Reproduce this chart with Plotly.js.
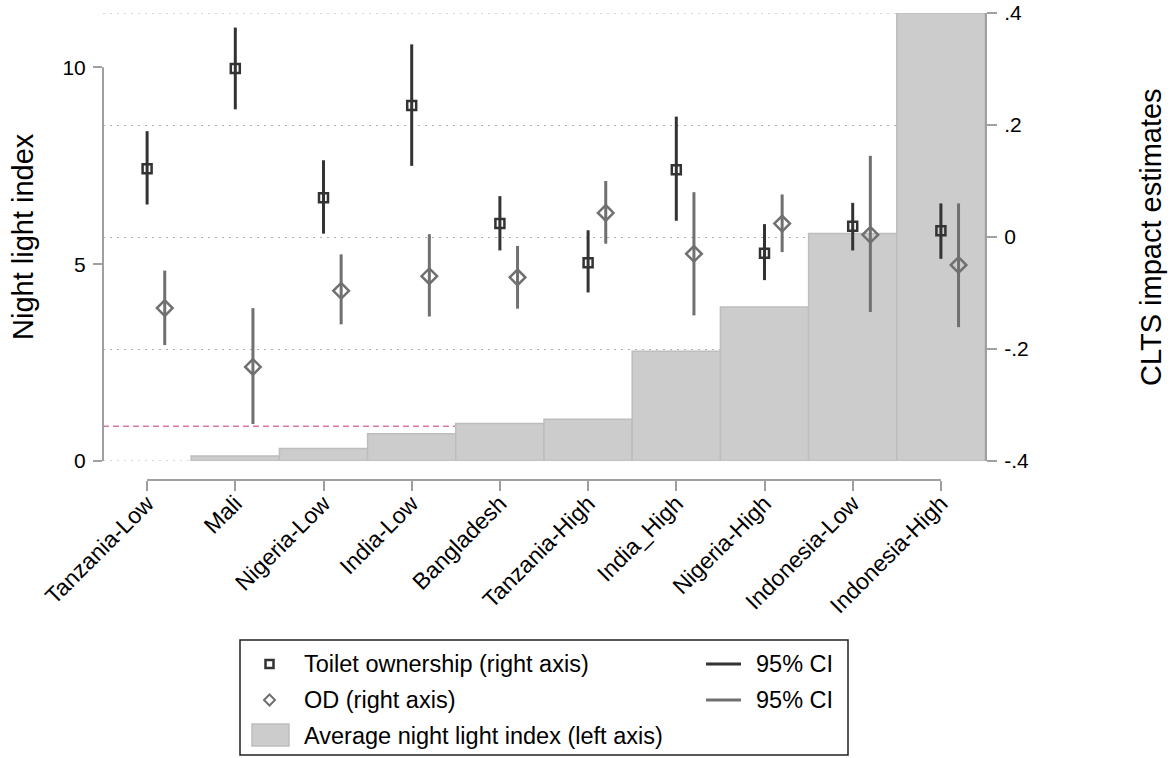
<!DOCTYPE html>
<html>
<head>
<meta charset="utf-8">
<script src="https://cdn.plot.ly/plotly-3.0.1.min.js"></script>
<style>html,body{margin:0;padding:0;background:#fff}</style>
</head>
<body>
<div id="chart" style="width:1172px;height:758px"></div>
<script>
// Sites, ordered by average night light index
const categories = ['Tanzania-Low', 'Mali', 'Nigeria-Low', 'India-Low', 'Bangladesh',
                    'Tanzania-High', 'India_High', 'Nigeria-High', 'Indonesia-Low', 'Indonesia-High'];

// Average night light index (left axis)
const nightLight = [0, 0.13, 0.32, 0.69, 0.95, 1.06, 2.79, 3.91, 5.78, 11.38];

// CLTS impact on toilet ownership (right axis) with 95% CI bounds
const toiletEst = [0.122, 0.301, 0.070, 0.235, 0.024, -0.046, 0.120, -0.029, 0.019, 0.011];
const toiletHi  = [0.189, 0.374, 0.137, 0.344, 0.073, 0.012, 0.215, 0.023, 0.061, 0.060];
const toiletLo  = [0.058, 0.228, 0.006, 0.127, -0.024, -0.099, 0.029, -0.077, -0.024, -0.039];

// CLTS impact on open defecation (right axis) with 95% CI bounds
const odEst = [-0.127, -0.232, -0.096, -0.070, -0.072, 0.043, -0.030, 0.024, 0.004, -0.050];
const odHi  = [-0.060, -0.127, -0.031, 0.005, -0.016, 0.100, 0.080, 0.076, 0.145, 0.060];
const odLo  = [-0.193, -0.334, -0.156, -0.142, -0.128, -0.012, -0.140, -0.027, -0.134, -0.161];

// Horizontal reference level on the night light scale
const referenceLevel = 0.88;

// Axis ticks
const leftTicks = [0, 5, 10];
const rightTicks = [-0.4, -0.2, 0, 0.2, 0.4];
const rightTickText = ['-.4', '-.2', '0', '.2', '.4'];

const idx = categories.map((_, i) => i);
const odOffset = 0.2;

const FONT = 'Liberation Sans, Arial, Helvetica, sans-serif';
const AXIS_GRAY = '#a0a0a0';
const GRID_GRAY = '#b0b0b0';
const GRID_DASH = '2px,5px';
const DARK = '#333333';
const MID = '#707070';
const BAR_FILL = '#cccccc';
const BAR_LINE = '#bdbdbd';

const W = 1172, H = 758;
const M = {l: 103, r: 187, t: 13, b: 278};
const plotW = W - M.l - M.r;
const paperH = H - M.t - M.b;
const axisGap = 19; // space between plot area and category axis
// pixel -> paper helpers for the hand-built legend and titles
const fx = px => (px - M.l) / plotW;
const fy = py => (H - M.b - py) / paperH;

const traces = [
  {
    type: 'bar', x: idx, y: nightLight, width: 1, yaxis: 'y', xaxis: 'x',
    marker: {color: BAR_FILL, line: {color: BAR_LINE, width: nightLight.map(v => v > 0 ? 1.5 : 0)}},
    hoverinfo: 'skip', showlegend: false
  },
  {
    type: 'scatter', mode: 'markers', x: idx, y: toiletEst, yaxis: 'y2',
    marker: {symbol: 'square-open', size: 9, color: DARK, line: {width: 2.5, color: DARK}},
    error_y: {type: 'data', symmetric: false,
              array: toiletHi.map((v, i) => v - toiletEst[i]),
              arrayminus: toiletLo.map((v, i) => toiletEst[i] - v),
              color: DARK, thickness: 3, width: 0},
    hoverinfo: 'skip', showlegend: false
  },
  {
    type: 'scatter', mode: 'markers', x: idx.map(i => i + odOffset), y: odEst, yaxis: 'y2',
    marker: {symbol: 'diamond-open', size: 12, color: MID, line: {width: 2.5, color: MID}},
    error_y: {type: 'data', symmetric: false,
              array: odHi.map((v, i) => v - odEst[i]),
              arrayminus: odLo.map((v, i) => odEst[i] - v),
              color: MID, thickness: 3, width: 0},
    hoverinfo: 'skip', showlegend: false
  }
];

const edgeGrid = v => ({
  type: 'line', layer: 'below', xref: 'paper', x0: 0, x1: 1, yref: 'y2', y0: v, y1: v,
  line: {color: GRID_GRAY, width: 1, dash: GRID_DASH}
});

const shapes = [
  // dotted grid at the top and bottom of the right-hand scale
  edgeGrid(rightTicks[0]),
  edgeGrid(rightTicks[rightTicks.length - 1]),
  // dashed reference level, drawn beneath the bars
  {type: 'line', layer: 'below', xref: 'paper', x0: 0, x1: 1, yref: 'y', y0: referenceLevel, y1: referenceLevel,
   line: {color: '#dc78a8', width: 1.5, dash: '6px,4px'}},
  // left axis line spans the labelled range only
  {type: 'line', xref: 'paper', x0: 0, x1: 0, yref: 'y', y0: leftTicks[0], y1: leftTicks[leftTicks.length - 1],
   line: {color: AXIS_GRAY, width: 2}},
  // category axis line spans the first to last category
  {type: 'line', xref: 'x', x0: 0, x1: categories.length - 1, yref: 'paper', y0: 0, y1: 0,
   line: {color: AXIS_GRAY, width: 2}},
  // legend frame
  {type: 'rect', xref: 'paper', yref: 'paper', x0: fx(240), x1: fx(848), y0: fy(640), y1: fy(755),
   line: {color: '#222222', width: 1.5}, fillcolor: 'rgba(0,0,0,0)'},
  // legend: square marker
  {type: 'rect', xref: 'paper', yref: 'paper', x0: fx(265.5), x1: fx(273.5), y0: fy(660), y1: fy(668),
   line: {color: DARK, width: 2.5}, fillcolor: 'rgba(0,0,0,0)'},
  // legend: diamond marker
  {type: 'path', xref: 'paper', yref: 'paper',
   path: `M ${fx(269.5)} ${fy(694.5)} L ${fx(275)} ${fy(700)} L ${fx(269.5)} ${fy(705.5)} L ${fx(264)} ${fy(700)} Z`,
   line: {color: MID, width: 2}, fillcolor: 'rgba(0,0,0,0)'},
  // legend: bar swatch
  {type: 'rect', xref: 'paper', yref: 'paper', x0: fx(252), x1: fx(289), y0: fy(724), y1: fy(746),
   line: {color: BAR_LINE, width: 1.5}, fillcolor: BAR_FILL},
  // legend: CI line keys
  {type: 'line', xref: 'paper', yref: 'paper', x0: fx(706), x1: fx(741), y0: fy(664), y1: fy(664),
   line: {color: DARK, width: 3}},
  {type: 'line', xref: 'paper', yref: 'paper', x0: fx(706), x1: fx(741), y0: fy(700), y1: fy(700),
   line: {color: MID, width: 3}}
];

const legendFont = {family: FONT, size: 23.5, color: '#000'};
const legendText = (text, px, py) => ({
  text, xref: 'paper', yref: 'paper', x: fx(px), y: fy(py),
  xanchor: 'left', yanchor: 'middle', showarrow: false, font: legendFont
});

const annotations = [
  {text: 'Night light index', xref: 'paper', yref: 'paper', x: fx(23), y: fy(237),
   xanchor: 'center', yanchor: 'middle', textangle: -90, showarrow: false,
   font: {family: FONT, size: 29, color: '#000'}},
  {text: 'CLTS impact estimates', xref: 'paper', yref: 'paper', x: fx(1151), y: fy(237),
   xanchor: 'center', yanchor: 'middle', textangle: -90, showarrow: false,
   font: {family: FONT, size: 29, color: '#000'}},
  legendText('Toilet ownership (right axis)', 302, 664),
  legendText('OD (right axis)', 302, 700),
  legendText('Average night light index (left axis)', 302, 736),
  legendText('95% CI', 754, 664),
  legendText('95% CI', 754, 700)
];

const tickFont = {family: FONT, size: 21, color: '#000'};

const layout = {
  width: W, height: H,
  margin: M,
  paper_bgcolor: '#ffffff', plot_bgcolor: '#ffffff',
  showlegend: false,
  bargap: 0,
  font: {family: FONT, color: '#000'},
  xaxis: {
    type: 'linear', range: [-0.5, categories.length - 0.5],
    tickmode: 'array', tickvals: idx, ticktext: categories, tickangle: -45,
    ticks: 'outside', ticklen: 10, tickwidth: 2, tickcolor: AXIS_GRAY,
    tickfont: {family: FONT, size: 23, color: '#000'}, ticklabelstandoff: -10,
    showline: false, showgrid: false, zeroline: false,
    anchor: 'free', position: 0
  },
  yaxis: {
    domain: [axisGap / paperH, 1], range: [0, nightLight[nightLight.length - 1]],
    tickmode: 'array', tickvals: leftTicks,
    ticks: 'outside', ticklen: 9, tickwidth: 2, tickcolor: AXIS_GRAY,
    tickfont: tickFont, ticklabelstandoff: 3,
    showline: false, showgrid: false, zeroline: false
  },
  yaxis2: {
    overlaying: 'y', side: 'right', range: [-0.4, 0.4],
    tickmode: 'array', tickvals: rightTicks, ticktext: rightTickText,
    ticks: 'outside', ticklen: 10, tickwidth: 2, tickcolor: AXIS_GRAY,
    showline: true, linecolor: AXIS_GRAY, linewidth: 2,
    showgrid: true, gridcolor: GRID_GRAY, gridwidth: 1, griddash: GRID_DASH,
    zeroline: false, tickfont: tickFont, ticklabelstandoff: 3
  },
  shapes, annotations
};

Plotly.newPlot('chart', traces, layout, {displayModeBar: false, staticPlot: true});
</script>
</body>
</html>
